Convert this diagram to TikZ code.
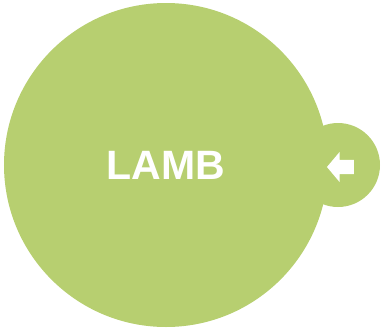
\documentclass[tikz,border=0pt]{standalone}
\usepackage{fontspec}
\setmainfont{Liberation Sans}
\usetikzlibrary{shapes.arrows}
\definecolor{lambgreen}{RGB}{183,207,112}

\begin{document}
\begin{tikzpicture}[x=1pt, y=-1pt,
    disc/.style={circle, fill=lambgreen, inner sep=0pt},
    backarrow/.style={single arrow, fill=white, inner xsep=0pt, inner ysep=7pt,
        minimum height=27pt,
        single arrow head extend=8pt, single arrow tip angle=100,
        shape border rotate=180}]

    \useasboundingbox (0,0) rectangle (384,330);

    % Tab on the right
    \node[disc, minimum size=84pt] (tab) at (338,165) {};

    % Main circle
    \node[disc, minimum size=324pt, text=white,
        font=\fontsize{41}{41}\selectfont\bfseries] (lamb) at (166,165) {LAMB};

    % Arrow in the tab
    \node[backarrow] (back) at (343.5,167) {};

\end{tikzpicture}
\end{document}
